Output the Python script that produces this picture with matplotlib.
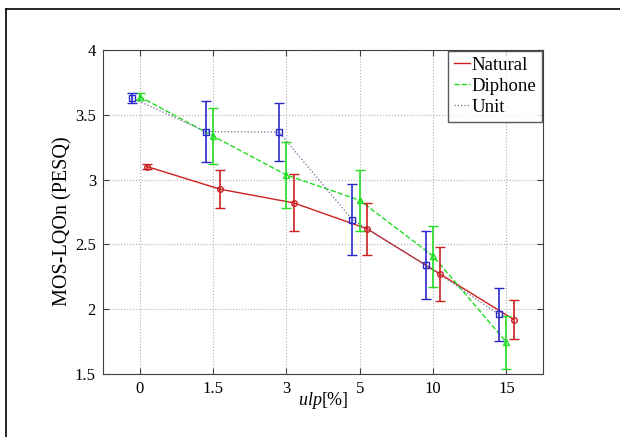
import matplotlib.pyplot as plt
from matplotlib.lines import Line2D

plt.rcParams['font.family'] = ['Liberation Serif', 'DejaVu Serif']
plt.rcParams['mathtext.fontset'] = 'custom'
plt.rcParams['mathtext.rm'] = 'Liberation Serif'
plt.rcParams['mathtext.it'] = 'Liberation Serif:italic'

ulp_labels = ['0', '1.5', '3', '5', '10', '15']

natural = [3.10, 2.925, 2.82, 2.62, 2.27, 1.92]
natural_err = [0.02, 0.145, 0.22, 0.20, 0.21, 0.15]

diphone = [3.64, 3.335, 3.035, 2.84, 2.41, 1.745]
diphone_err = [0.03, 0.215, 0.255, 0.235, 0.235, 0.205]

unit = [3.627, 3.37, 3.365, 2.69, 2.34, 1.96]
unit_err = [0.04, 0.235, 0.225, 0.275, 0.265, 0.205]

pos = list(range(1, len(ulp_labels) + 1))

fig = plt.figure(figsize=(6.2, 4.37), dpi=100)
ax = fig.add_axes([0.166, 0.144, 0.710, 0.742])

series = [
    ('Natural', natural, natural_err, 0.1, '#cc2020', '-', 'o', '#cc2020', 1.0),
    ('Diphone', diphone, diphone_err, 0.0, '#22dd22', '--', '^', '#22dd22', 1.0),
    ('Unit', unit, unit_err, -0.1, '#6a6a90', ':', 's', '#2a2acc', 0.9),
]

for name, vals, err, off, lcol, ls, mk, ecol, lw in series:
    x = [p + off for p in pos]
    ax.plot(x, vals, ls, color=lcol, linewidth=lw, label=name, zorder=3)
    ax.errorbar(x, vals, yerr=err, fmt=mk, color=ecol, markersize=4,
                markerfacecolor='none', markeredgewidth=1.0, capsize=3.5,
                elinewidth=1.2, capthick=1.2, zorder=4)

ax.set_xlim(0.5, 6.5)
ax.set_ylim(1.5, 4)
ax.set_xticks(pos)
ax.set_xticklabels(ulp_labels)
ax.set_yticks([1.5, 2, 2.5, 3, 3.5, 4])
ax.set_yticklabels(['1.5', '2', '2.5', '3', '3.5', '4'])
ax.tick_params(direction='in', length=4, top=True, right=True, labelsize=12,
               color='#404040', pad=5)
ax.grid(True, linestyle=':', color='#b0b0b0', linewidth=0.8)
for s in ax.spines.values():
    s.set_color('#404040')

ax.set_ylabel('MOS-LQOn (PESQ)', fontsize=14.5, labelpad=1.5)
ax.yaxis.label.set_y(0.472)
ax.set_xlabel(r'$\mathit{ulp}$[%]', fontsize=13, labelpad=-5)

leg = ax.legend(loc='upper right', fontsize=13.5, frameon=True, fancybox=False,
                borderaxespad=0.05, handlelength=0.85, handletextpad=0.1,
                borderpad=0.3, labelspacing=0.22)
leg.get_frame().set_edgecolor('#303030')
leg.get_frame().set_linewidth(1.0)

# frame of the original figure (only left and top edges visible)
fig.add_artist(Line2D([6 / 620, 6 / 620], [0, 1 - 9 / 437], color='black', linewidth=1.2))
fig.add_artist(Line2D([6 / 620, 1], [1 - 9 / 437, 1 - 9 / 437], color='black', linewidth=1.2))

plt.savefig('out.png', dpi=100)
plt.close()
